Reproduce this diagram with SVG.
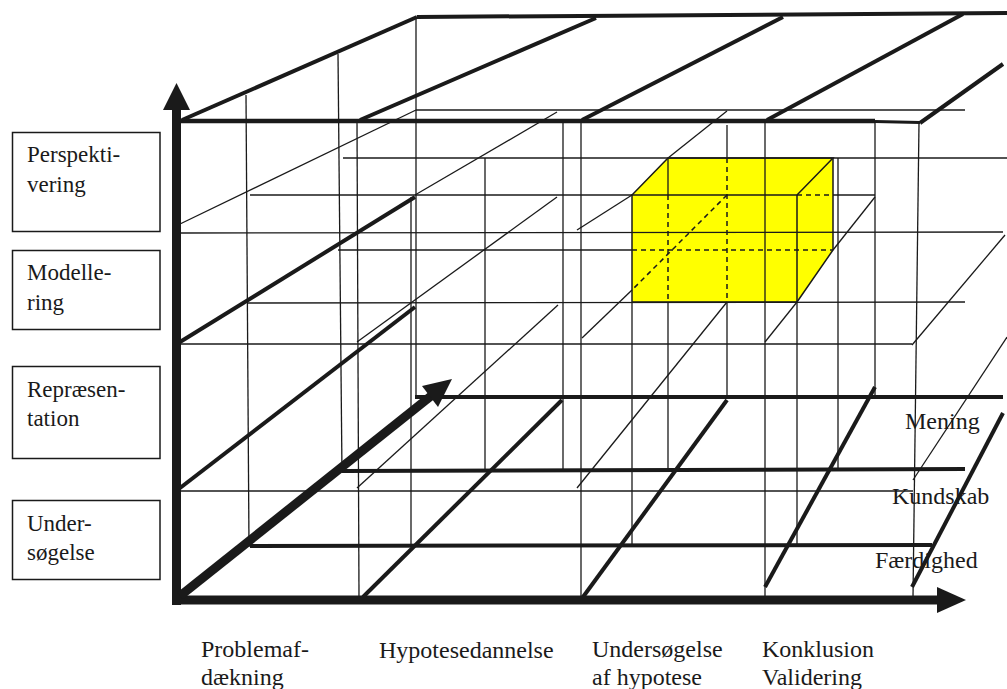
<svg xmlns="http://www.w3.org/2000/svg" width="1007" height="689" viewBox="0 0 1007 689">
<style>
.thin{stroke:#1a1a1a;stroke-width:1.3;fill:none}
.dash{stroke:#1a1a1a;stroke-width:1.5;fill:none;stroke-dasharray:5 4}
.thick{stroke:#1a1a1a;stroke-width:4;fill:none;stroke-linecap:butt}
.axis{stroke:#1a1a1a;stroke-width:9;fill:none}
.head{fill:#1a1a1a;stroke:none}
.box{fill:#fff;stroke:#1a1a1a;stroke-width:1.5}
.lbl{font-family:"Liberation Serif","Times New Roman",serif;font-size:23px;fill:#1a1a1a}
.ax{font-family:"Liberation Serif","Times New Roman",serif;font-size:24px;fill:#1a1a1a}
.yel{fill:#ffff00;stroke:none}
.edge{stroke:#1a1a1a;stroke-width:1.5;fill:none}
</style>
<rect width="1007" height="689" fill="#fff"/>
<g id="cube-box">
<polygon class="yel" points="632,195 668,158 833,158 833,250 797,302 632,302"/>
</g>
<g id="connectors">
<!-- top face / back thick lines -->
<line class="thick" x1="182" y1="120" x2="417" y2="17"/>
<line class="thick" x1="417" y1="17" x2="1007" y2="13"/>
<line class="thick" x1="360" y1="120" x2="596" y2="18"/>
<line class="thick" x1="582" y1="120" x2="783" y2="17"/>
<line class="thick" x1="767" y1="120" x2="963" y2="14"/>
<line class="thick" x1="920" y1="123" x2="1003" y2="64"/>
<line class="thick" x1="180" y1="121" x2="875" y2="121" style="stroke-width:4.5"/>
<line class="thick" x1="875" y1="121.5" x2="920" y2="122.5" style="stroke-width:3"/>
<!-- thin verticals -->
<line class="thin" x1="246" y1="95" x2="249" y2="547"/>
<line class="thin" x1="338" y1="54" x2="342" y2="473"/>
<line class="thin" x1="416" y1="18" x2="416" y2="398"/>
<line class="thin" x1="357" y1="123" x2="359" y2="597"/>
<line class="thin" x1="411" y1="197" x2="411" y2="545"/>
<line class="thin" x1="485" y1="158" x2="485" y2="472"/>
<line class="thin" x1="563" y1="123" x2="563" y2="472"/>
<line class="thin" x1="581" y1="121" x2="581" y2="597"/>
<line class="thin" x1="632" y1="302" x2="632" y2="545"/>
<line class="thin" x1="668" y1="158" x2="668" y2="195"/>
<line class="dash" x1="668" y1="195" x2="668" y2="302"/>
<line class="thin" x1="668" y1="302" x2="668" y2="470"/>
<line class="thin" x1="727" y1="125" x2="727" y2="158"/>
<line class="dash" x1="727" y1="158" x2="727" y2="302"/>
<line class="thin" x1="727" y1="302" x2="727" y2="398"/>
<line class="thin" x1="765" y1="121" x2="765" y2="597"/>
<line class="thin" x1="797" y1="302" x2="797" y2="545"/>
<line class="thin" x1="838" y1="158" x2="838" y2="470"/>
<line class="thin" x1="875" y1="121" x2="875" y2="395"/>
<line class="thin" x1="919" y1="123" x2="913" y2="597"/>
<!-- thin horizontals -->
<line class="thin" x1="416" y1="110" x2="965" y2="110"/>
<line class="thin" x1="343" y1="158" x2="1007" y2="158"/>
<line class="thin" x1="250" y1="195" x2="632" y2="195"/>
<line class="dash" x1="797" y1="195" x2="833" y2="195"/>
<line class="thin" x1="833" y1="195" x2="875" y2="195"/>
<line class="thin" x1="180" y1="233" x2="1003" y2="232"/>
<line class="thin" x1="338" y1="250" x2="632" y2="250"/>
<line class="dash" x1="632" y1="250" x2="833" y2="250"/>
<line class="thin" x1="247" y1="303" x2="965" y2="302"/>
<line class="thin" x1="180" y1="344" x2="912" y2="344"/>
<line class="thin" x1="180" y1="491" x2="913" y2="491"/>
<!-- thin diagonals -->
<line class="thin" x1="180" y1="224" x2="416" y2="110"/>
<line class="thin" x1="415" y1="195" x2="557" y2="112"/>
<line class="thin" x1="557" y1="197" x2="357" y2="342"/>
<line class="thin" x1="727" y1="111" x2="668" y2="158"/>
<line class="thin" x1="632" y1="195" x2="577" y2="230"/>
<line class="thin" x1="875" y1="197" x2="833" y2="250"/>
<line class="thin" x1="1005" y1="235" x2="912" y2="345"/>
<line class="dash" x1="727" y1="195" x2="632" y2="290"/>
<line class="thin" x1="632" y1="290" x2="582" y2="338"/>
<line class="thin" x1="727" y1="302" x2="577" y2="488"/>
<line class="thin" x1="797" y1="302" x2="765" y2="342"/>
<line class="thin" x1="1007" y1="337" x2="913" y2="480"/>
<line class="thin" x1="558" y1="305" x2="357" y2="488"/>
<!-- yellow box edges -->
<polyline class="edge" points="632,302 632,195 797,195 797,302 632,302"/>
<polyline class="edge" points="632,195 668,158 833,158 797,195"/>
<polyline class="edge" points="833,158 833,250 797,302"/>
<!-- thick lower lines -->
<line class="thick" x1="180" y1="342" x2="415" y2="197"/>
<line class="thick" x1="180" y1="488" x2="415" y2="307"/>
<line class="thick" x1="415" y1="397" x2="1003" y2="397"/>
<line class="thick" x1="342" y1="471" x2="965" y2="469"/>
<line class="thick" x1="250" y1="546" x2="932" y2="545"/>
<line class="thick" x1="363" y1="597" x2="562" y2="400"/>
<line class="thick" x1="583" y1="597" x2="727" y2="400"/>
<line class="thick" x1="765" y1="587" x2="875" y2="387"/>
<line class="thick" x1="912" y1="587" x2="1003" y2="413"/>
<!-- axes -->
<line class="axis" x1="176.5" y1="605" x2="176.5" y2="108"/>
<polygon class="head" points="163,110 190,110 176.5,83"/>
<line class="axis" x1="172" y1="600" x2="939" y2="600"/>
<polygon class="head" points="937,587 937,613 966,600"/>
<line class="axis" x1="180" y1="596" x2="431" y2="396"/>
<polygon class="head" points="452,379 422,386 438,407"/>
</g>
<g id="level-perspektivering">
<rect class="box" x="12.5" y="132.5" width="147.5" height="99"/>
<text class="lbl" x="27" y="162">Perspekti-</text>
<text class="lbl" x="27" y="192">vering</text>
</g>
<g id="level-modellering">
<rect class="box" x="12.5" y="250.5" width="147.5" height="79"/>
<text class="lbl" x="27" y="280">Modelle-</text>
<text class="lbl" x="27" y="310">ring</text>
</g>
<g id="level-repraesentation">
<rect class="box" x="12.5" y="366.5" width="147.5" height="92"/>
<text class="lbl" x="27" y="397">Repræsen-</text>
<text class="lbl" x="27" y="426">tation</text>
</g>
<g id="level-undersoegelse">
<rect class="box" x="12.5" y="500.5" width="147.5" height="79"/>
<text class="lbl" x="27" y="531">Under-</text>
<text class="lbl" x="27" y="560">søgelse</text>
</g>
<g id="depth-labels">
<text class="ax" x="905" y="429">Mening</text>
<text class="ax" x="892" y="504">Kundskab</text>
<text class="ax" x="875" y="568">Færdighed</text>
</g>
<g id="phase-labels">
<text class="ax" x="201" y="657">Problemaf-</text>
<text class="ax" x="201" y="685">dækning</text>
<text class="ax" x="379" y="658">Hypotesedannelse</text>
<text class="ax" x="592" y="657">Undersøgelse</text>
<text class="ax" x="592" y="685">af hypotese</text>
<text class="ax" x="762" y="657">Konklusion</text>
<text class="ax" x="762" y="685">Validering</text>
</g>
</svg>
